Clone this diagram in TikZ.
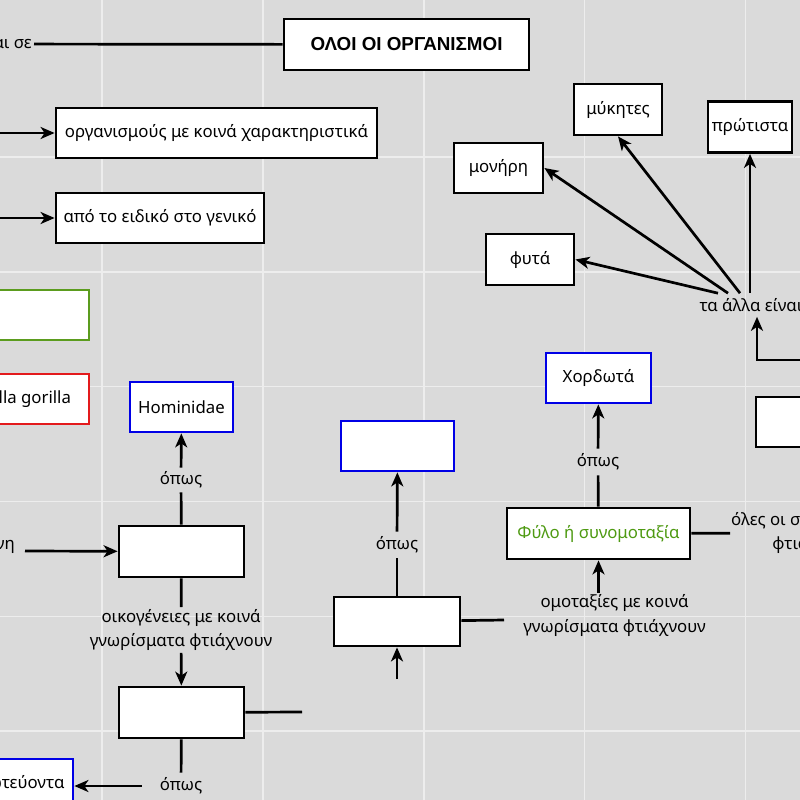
\documentclass[tikz,border=0pt]{standalone}
\usepackage{fontspec}
\setmainfont{Noto Sans}
\newfontfamily\titlefont{Liberation Sans}
\usetikzlibrary{arrows.meta,calc}
\definecolor{bgc}{HTML}{DADADA}
\definecolor{gridc}{HTML}{EDEDED}
\definecolor{bluec}{HTML}{0000E6}
\definecolor{greenc}{HTML}{5B9C1E}
\definecolor{redc}{HTML}{E31A1C}
\definecolor{greentext}{HTML}{4E9A12}
\newcommand\lblfont{\fontsize{16.8pt}{24.5pt}\selectfont}
\begin{document}
\begin{tikzpicture}[x=1pt,y=-1pt,
  box/.style={draw=black, fill=white, line width=2.8pt, inner sep=0pt, font=\lblfont},
  bluebox/.style={box, draw=bluec},
  lbl/.style={inner xsep=2pt, inner ysep=2pt, font=\lblfont, align=center},
  ln/.style={line width=2.7pt},
  arr/.style={line width=2.7pt, -{Stealth[length=14pt,width=12pt,inset=4pt]}},
  gridline/.style={draw=gridc, line width=1.4pt}]
\useasboundingbox (0,0) rectangle (800,800);
\clip (0,0) rectangle (800,800);
\fill[bgc] (0,0) rectangle (800,800);
\foreach \x in {102,262.9,423.8,584.7,745.6} \draw[gridline] (\x,0) -- (\x,800);
\foreach \y in {157,271.8,386.6,501.4,616.2,731} \draw[gridline] (0,\y) -- (800,\y);

% top
\node[box, minimum width=245pt, minimum height=51pt, font=\titlefont\bfseries\fontsize{18.8pt}{22pt}\selectfont] (title) at (406.5,44.5) {ΟΛΟΙ ΟΙ ΟΡΓΑΝΙΣΜΟΙ};
\node[lbl, anchor=east] (tsl) at (34,44) {ταξινομούνται σε};
\draw[ln] (tsl) -- (title);

\node[box, minimum width=321pt, minimum height=50pt] (orgbox) at (216.5,133) {οργανισμούς με κοινά χαρακτηριστικά};
\node[box, minimum width=208pt, minimum height=50pt] (eidbox) at (160,218) {από το ειδικό στο γενικό};
\coordinate (in1) at (-5,133);
\coordinate (in2) at (-5,218);
\draw[arr] (in1) -- (orgbox);
\draw[arr] (in2) -- (eidbox);

% left column
\node[box, draw=greenc, minimum width=178pt, minimum height=50pt] (greenbox) at (0,315) {};
\node[box, draw=redc, minimum width=142pt, minimum height=50pt] (redbox) at (18,399) {Gorilla gorilla};
\node[bluebox, minimum width=103pt, minimum height=50pt] (homin) at (181.5,407) {Hominidae};
\node[lbl, inner ysep=4pt] (opos1) at (181,480) {όπως};
\node[box, minimum width=125pt, minimum height=51pt] (boxA) at (181.5,551.5) {};
\draw[arr] (opos1) -- (homin);
\draw[ln] (boxA) -- (opos1);
\node[lbl, anchor=east] (genh) at (17,545) {γένη};
\coordinate (in3) at (25,551);
\draw[arr] (in3) -- (boxA);
\node[lbl] (oikog) at (181,630) {οικογένειες με κοινά\\γνωρίσματα φτιάχνουν};
\node[box, minimum width=125pt, minimum height=51pt] (boxB) at (181.5,712.5) {};
\draw[ln] (boxA) -- (oikog);
\draw[arr] (oikog) -- (boxB);
\coordinate (out1) at (302,712);
\draw[ln] (boxB) -- (out1);
\node[lbl, inner ysep=5pt] (opos2) at (181,786) {όπως};
\draw[ln] (boxB) -- (opos2);
\node[bluebox, minimum width=114pt, minimum height=50pt] (prot) at (16,784) {πρωτεύοντα};
\draw[arr, shorten <=16pt] (opos2.west) -- (opos2.west -| prot.east);

% middle column
\node[box, minimum width=126pt, minimum height=49pt] (boxC) at (397,621.5) {};
\coordinate (out2) at (504,620);
\draw[ln] (boxC) -- (out2);
\coordinate (in4) at (397,679);
\draw[arr] (in4) -- (boxC);
\node[lbl, inner ysep=5pt] (opos3) at (397,545) {όπως};
\node[bluebox, minimum width=113pt, minimum height=50pt] (boxD) at (397.5,446) {};
\draw[ln] (boxC) -- (opos3);
\draw[arr] (opos3) -- (boxD);

% phylum column
\node[box, minimum width=183pt, minimum height=51pt, text=greentext] (phylo) at (598.5,533.5) {Φύλο ή συνομοταξία};
\node[lbl, inner ysep=5pt] (opos4) at (598,462) {όπως};
\node[bluebox, minimum width=105pt, minimum height=50pt] (chord) at (598.5,378) {Χορδωτά};
\draw[ln] (phylo) -- (opos4);
\draw[arr] (opos4) -- (chord);
\node[lbl] (omot) at (614.5,615.5) {ομοταξίες με κοινά\\γνωρίσματα φτιάχνουν};
\draw[arr] (omot.north -| phylo.south) -- (phylo.south);
\node[lbl, anchor=west, inner xsep=1pt] (oles) at (730,533) {όλες οι συνομοταξίες\\φτιάχνουν};
\draw[ln] (phylo) -- (oles);

% top right
\node[box, minimum width=88pt, minimum height=51pt] (myk) at (618,109.5) {μύκητες};
\node[box, minimum width=84pt, minimum height=51pt] (prw) at (750,127) {πρώτιστα};
\node[box, minimum width=89pt, minimum height=50pt] (mon) at (498.5,168) {μονήρη};
\node[box, minimum width=88pt, minimum height=51pt] (fyt) at (530,259.5) {φυτά};
\node[lbl, inner ysep=5pt] (talla) at (751,305) {τα άλλα είναι};
\draw[arr] ([xshift=-33pt]talla.north) -- (fyt.east);
\draw[arr] ([xshift=-23pt]talla.north) -- (mon.east);
\draw[arr] ([xshift=-11pt]talla.north) -- (myk.south);
\draw[arr] (talla.north -| prw.south) -- (prw.south);
\coordinate (in5) at (805,360);
\draw[arr] (in5) -| ([xshift=6pt]talla.south);
\node[box, minimum width=128pt, minimum height=50pt] (boxE) at (820,422) {};
\end{tikzpicture}
\end{document}
